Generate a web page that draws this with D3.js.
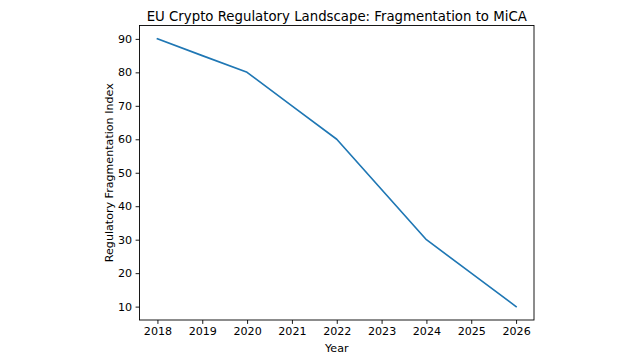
<!DOCTYPE html>
<html>
<head>
<meta charset="utf-8">
<script src="https://cdn.jsdelivr.net/npm/d3@7"></script>
<style>
    body { margin: 0; background: #fff; }
    text { font-family: "DejaVu Sans", sans-serif; fill: #000; }
</style>
</head>
<body>
<div id="chart"></div>
<script>
// data
let years = [2018, 2019, 2020, 2021, 2022, 2023, 2024, 2025, 2026];
let fragmentation = [90, 85, 80, 70, 60, 45, 30, 20, 10];
let yTicks = [10, 20, 30, 40, 50, 60, 70, 80, 90];

let width = 636, height = 362;
let margin = {top: 25.5, right: 102, bottom: 42, left: 139.5};
let plotW = width - margin.left - margin.right;
let plotH = height - margin.top - margin.bottom;
let fontSize = 11.1;

let svg = d3.select("#chart").append("svg")
    .attr("width", width)
    .attr("height", height);

let g = svg.append("g")
    .attr("transform", "translate(" + margin.left + "," + margin.top + ")");

// matplotlib style 5% padding
let xPad = (d3.max(years) - d3.min(years)) * 0.05;
let yPad = (d3.max(fragmentation) - d3.min(fragmentation)) * 0.05;

let xScale = d3.scaleLinear()
    .domain([d3.min(years) - xPad, d3.max(years) + xPad])
    .range([0, plotW]);
let yScale = d3.scaleLinear()
    .domain([d3.min(fragmentation) - yPad, d3.max(fragmentation) + yPad])
    .range([plotH, 0]);

let xAxis = d3.axisBottom(xScale)
    .tickValues(years)
    .tickFormat(d3.format("d"))
    .tickSize(3.9)
    .tickPadding(3.6);
let yAxis = d3.axisLeft(yScale)
    .tickValues(yTicks)
    .tickSize(3.9)
    .tickPadding(3.6);

let line = d3.line()
    .x((d, i) => xScale(years[i]))
    .y(d => yScale(d));

g.append("path")
    .datum(fragmentation)
    .attr("d", line)
    .attr("fill", "none")
    .attr("stroke", "#1f77b4")
    .attr("stroke-width", 1.65)
    .attr("stroke-linejoin", "round")
    .attr("stroke-linecap", "square");

let xg = g.append("g")
    .attr("transform", "translate(0," + plotH + ")")
    .call(xAxis);
let yg = g.append("g").call(yAxis);

[xg, yg].forEach(function(ax){
    ax.select(".domain").remove();
    ax.selectAll("line").attr("stroke", "#000").attr("stroke-width", 0.9);
    ax.selectAll("text")
        .style("font-family", "DejaVu Sans, sans-serif")
        .style("font-size", fontSize + "px")
        .attr("fill", "#000");
});

// frame
g.append("rect")
    .attr("x", 0)
    .attr("y", 0)
    .attr("width", plotW)
    .attr("height", plotH)
    .attr("fill", "none")
    .attr("stroke", "#000")
    .attr("stroke-width", 0.9);

svg.append("text")
    .attr("x", margin.left + plotW / 2)
    .attr("y", 20.5)
    .attr("text-anchor", "middle")
    .style("font-size", "13.3px")
    .text("EU Crypto Regulatory Landscape: Fragmentation to MiCA");

svg.append("text")
    .attr("x", margin.left + plotW / 2)
    .attr("y", 351.5)
    .attr("text-anchor", "middle")
    .style("font-size", fontSize + "px")
    .text("Year");

svg.append("text")
    .attr("transform", "translate(112.5," + (margin.top + plotH / 2) + ") rotate(-90)")
    .attr("text-anchor", "middle")
    .style("font-size", fontSize + "px")
    .text("Regulatory Fragmentation Index");
</script>
</body>
</html>
